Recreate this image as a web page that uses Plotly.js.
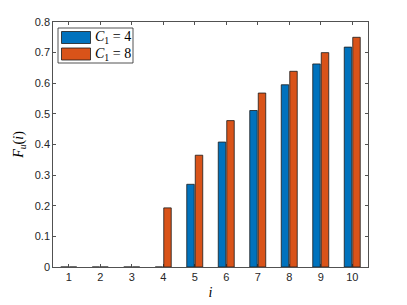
<!DOCTYPE html>
<html>
<head>
<meta charset="utf-8">
<script src="https://cdn.plot.ly/plotly-3.0.1.min.js"></script>
<style>html,body{margin:0;padding:0;background:#fff;}#chart{width:407px;height:305px;}</style>
</head>
<body>
<div id="chart"></div>
<script>
const categories = [1, 2, 3, 4, 5, 6, 7, 8, 9, 10];
const seriesC4 = [0, 0, 0, 0, 0.27, 0.408, 0.511, 0.595, 0.663, 0.718];
const seriesC8 = [0, 0, 0, 0.193, 0.365, 0.478, 0.568, 0.639, 0.70, 0.75];
const yTickVals = [0, 0.1, 0.2, 0.3, 0.4, 0.5, 0.6, 0.7, 0.8];
const yTickText = ["0", "0.1", "0.2", "0.3", "0.4", "0.5", "0.6", "0.7", "0.8"];
const legendLabels = ["<i>C</i><sub>1</sub> = 4", "<i>C</i><sub>1</sub> = 8"];
const colors = ["#0072BD", "#D95319"];

const axisColor = "#262626";
const tickFont = {family: "Liberation Sans, Arial, sans-serif", size: 11, color: axisColor};
const mathFont = {family: "Liberation Serif, Times New Roman, serif", size: 14, color: "#000"};

const traces = [
  {type: "bar", x: categories, y: seriesC4, name: legendLabels[0],
   marker: {color: colors[0], line: {color: "#1a1a1a", width: 0.8}}},
  {type: "bar", x: categories, y: seriesC8, name: legendLabels[1],
   marker: {color: colors[1], line: {color: "#1a1a1a", width: 0.8}}}
];

const W = 407, H = 305, ml = 53, mr = 39, mt = 22, mb = 38;
const pw = W - ml - mr, ph = H - mt - mb;
function px(x) { return (x - ml) / pw; }
function py(y) { return 1 - (y - mt) / ph; }

const shapes = [
  {type: "rect", xref: "paper", yref: "paper", x0: px(58), x1: px(133), y0: py(63), y1: py(28),
   line: {color: axisColor, width: 0.8}, fillcolor: "#fff"},
  {type: "rect", xref: "paper", yref: "paper", x0: px(61.5), x1: px(90.5), y0: py(43.5), y1: py(31.5),
   line: {color: "#1a1a1a", width: 0.8}, fillcolor: colors[0]},
  {type: "rect", xref: "paper", yref: "paper", x0: px(61.5), x1: px(90.5), y0: py(60), y1: py(48),
   line: {color: "#1a1a1a", width: 0.8}, fillcolor: colors[1]}
];
const annotations = [
  {xref: "paper", yref: "paper", x: px(92.5), y: py(37.5), xanchor: "left", yanchor: "middle",
   text: legendLabels[0], showarrow: false, font: mathFont},
  {xref: "paper", yref: "paper", x: px(92.5), y: py(54), xanchor: "left", yanchor: "middle",
   text: legendLabels[1], showarrow: false, font: mathFont}
];

const layout = {
  width: W, height: H,
  margin: {l: ml, r: mr, t: mt, b: mb, pad: 0},
  paper_bgcolor: "#fff", plot_bgcolor: "#fff",
  showlegend: false,
  barmode: "group", bargap: 0.46, bargroupgap: 0.12,
  xaxis: {
    range: [0.5, 10.5], tickvals: categories, ticktext: categories.map(String),
    ticks: "inside", ticklen: 3, tickcolor: axisColor, tickwidth: 0.8,
    showline: true, linecolor: axisColor, linewidth: 0.8, mirror: "ticks",
    showgrid: false, zeroline: false, tickfont: tickFont,
    title: {text: "<i>i</i>", font: mathFont, standoff: 5}
  },
  yaxis: {
    range: [0, 0.8], tickvals: yTickVals, ticktext: yTickText,
    ticks: "inside", ticklen: 3, tickcolor: axisColor, tickwidth: 0.8,
    showline: true, linecolor: axisColor, linewidth: 0.8, mirror: "ticks",
    showgrid: false, zeroline: false, tickfont: tickFont,
    title: {text: "<i>F</i><sub><i>u</i></sub>(<i>i</i>)", font: mathFont, standoff: 7}
  },
  shapes: shapes,
  annotations: annotations
};

Plotly.newPlot("chart", traces, layout, {displayModeBar: false, staticPlot: true});
</script>
</body>
</html>
